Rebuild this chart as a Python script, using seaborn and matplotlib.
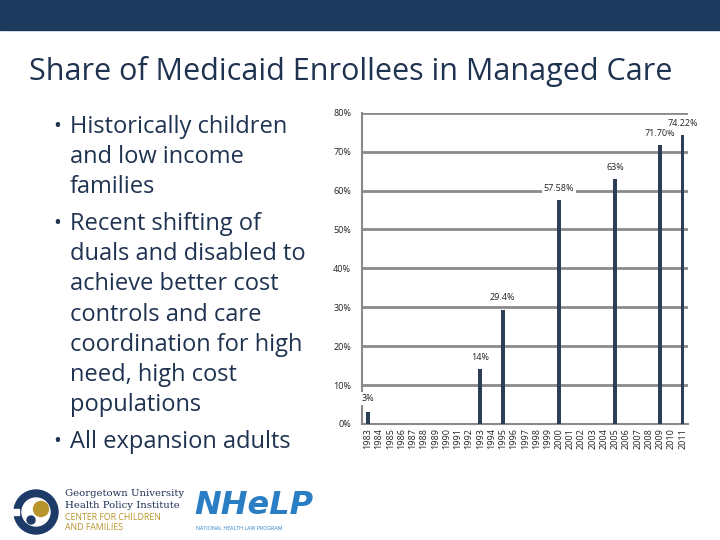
import numpy as np
import pandas as pd
import matplotlib
matplotlib.use('Agg')
import matplotlib.pyplot as plt
import seaborn as sns
from matplotlib.patches import Rectangle, Circle

# data
all_years = list(range(1983, 2012))
bar_years = [1983, 1993, 1995, 2000, 2005, 2009, 2011]
bar_shares = [3.0, 14.0, 29.4, 57.58, 63.0, 71.70, 74.22]
bar_labels = ['3%', '14%', '29.4%', '57.58%', '63%', '71.70%', '74.22%']
y_ticks = [0, 10, 20, 30, 40, 50, 60, 70, 80]

title = 'Share of Medicaid Enrollees in Managed Care'
bullets = [
    'Historically children\nand low income\nfamilies',
    'Recent shifting of\nduals and disabled to\nachieve better cost\ncontrols and care\ncoordination for high\nneed, high cost\npopulations',
    'All expansion adults',
]

navy = '#1b3a5e'
bar_color = '#2d3e55'
text_color = '#1f3350'
grid_grey = '#8a8a8a'

sns.set_style('white')
plt.rcParams['font.family'] = ['Open Sans', 'DejaVu Sans']

fig = plt.figure(figsize=(7.2, 5.4), dpi=100)

# top band
fig.patches.append(Rectangle((0, 1 - 30 / 540), 1, 30 / 540, transform=fig.transFigure,
                             color=navy, zorder=0))
fig.text(0.04, 0.868, title, fontsize=22, color=text_color, ha='left', va='center')

# bullets
y = 0.765
for b in bullets:
    lines = b.split('\n')
    fig.text(0.074, y, '\u2022', fontsize=15, color=text_color, ha='left', va='center')
    for ln in lines:
        fig.text(0.097, y, ln, fontsize=17, color=text_color, ha='left', va='center')
        y -= 30.2 / 540
    y -= 6.5 / 540

# chart
df = pd.DataFrame({'year': bar_years, 'share': bar_shares})
ax = fig.add_axes([0.503, 0.215, 0.453, 0.576])
sns.barplot(data=df, x='year', y='share', order=all_years, color=bar_color,
            width=0.32, saturation=1, linewidth=0, ax=ax, zorder=3)
ax.set_ylim(0, 80)
ax.set_xlim(-0.5, len(all_years) - 0.5)
ax.set_yticks(y_ticks)
ax.set_yticklabels([f'{t}%' for t in y_ticks], fontsize=6.5, color='#222222')
ax.set_xticks(range(len(all_years)))
ax.set_xticklabels([str(yr) for yr in all_years], rotation=90, fontsize=6.5, color='#222222')
ax.set_xlabel('')
ax.set_ylabel('')
for t in y_ticks[1:]:
    ax.axhline(t, color=grid_grey, lw=2, zorder=1)
for s in ['top', 'right']:
    ax.spines[s].set_visible(False)
ax.spines['left'].set_color(grid_grey)
ax.spines['bottom'].set_color(grid_grey)
ax.spines['left'].set_linewidth(1.5)
ax.spines['bottom'].set_linewidth(1.5)
ax.tick_params(axis='x', length=0, pad=3)
ax.tick_params(axis='y', length=0, pad=8)
# minor ticks between categories
ax.set_xticks(np.arange(-0.5, len(all_years), 1), minor=True)
ax.tick_params(axis='x', which='minor', length=4, color=grid_grey, width=1.2)

for yr, v, lab in zip(bar_years, bar_shares, bar_labels):
    i = all_years.index(yr)
    dy = 3.6 if lab == '3%' else 3.0
    ax.text(i, v + dy, lab, fontsize=6.5, ha='center', va='center', color='#222222',
            zorder=4, bbox=dict(facecolor='white', edgecolor='none', pad=1.5))

# logos
lax = fig.add_axes([0, 0, 1, 0.12])
lax.set_xlim(0, 720)
lax.set_ylim(0, 64.8)
lax.axis('off')
lax.add_patch(Circle((36, 28), 22, color='#1e3a66'))
lax.add_patch(Circle((36, 28), 14, color='white'))
lax.add_patch(Circle((41, 31), 7.5, color='#b8952a'))
lax.add_patch(Circle((31, 20), 4, color='#1e3a66'))
lax.add_patch(Rectangle((11, 25), 8, 6, color='white'))
lax.text(65, 46, 'Georgetown University', fontsize=7.3, family='DejaVu Serif',
         color='#1e2f55', va='center')
lax.text(65, 35, 'Health Policy Institute', fontsize=7.3, family='DejaVu Serif',
         color='#1e2f55', va='center')
lax.text(65, 22, 'CENTER FOR CHILDREN', fontsize=6.3, color='#b8952a', va='center')
lax.text(65, 13, 'AND FAMILIES', fontsize=6.3, color='#b8952a', va='center')
lax.text(194, 34, 'NHeLP', fontsize=23, fontweight='bold', style='italic',
         color='#2a7fc4', va='center', family='DejaVu Sans')
lax.text(196, 12, 'NATIONAL HEALTH LAW PROGRAM', fontsize=3.8, color='#2a7fc4', va='center')

fig.savefig('out.png', dpi=100)
